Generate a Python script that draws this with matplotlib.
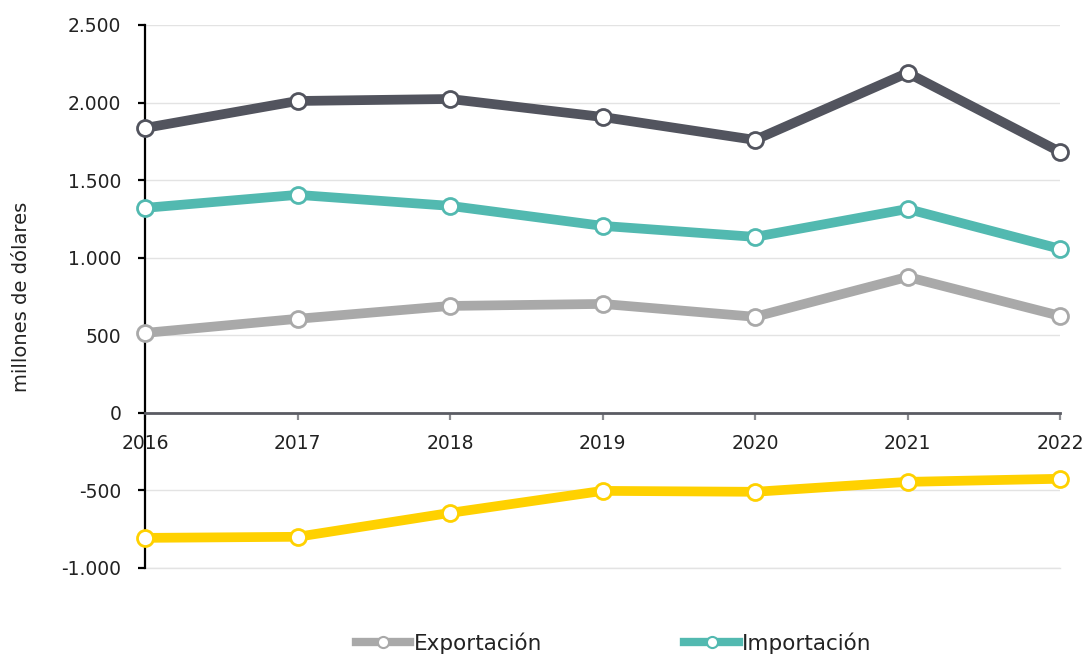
import matplotlib.pyplot as plt
from matplotlib.lines import Line2D
from matplotlib.ticker import FuncFormatter

plt.rcParams['font.family'] = ['DejaVu Sans']

years = [2016, 2017, 2018, 2019, 2020, 2021, 2022]
exportacion = [515, 606, 689, 702, 619, 876, 625]
importacion = [1321, 1405, 1334, 1205, 1134, 1314, 1057]
intercambio = [1836, 2010, 2023, 1907, 1759, 2191, 1682]
balanza = [-806, -799, -645, -503, -509, -445, -425]

series = [
    ("Exportación", exportacion, "#A9A9A9"),
    ("Importación", importacion, "#52B9B0"),
    ("Intercambio comercial", intercambio, "#52545E"),
    ("Balanza comercial", balanza, "#FFD100"),
]

fig = plt.figure(figsize=(10.88, 6.57), dpi=100)
ax = fig.add_axes([0.1333, 0.1355, 0.841, 0.8265])

for name, vals, col in series:
    ax.plot(years, vals, color=col, lw=7, marker='o', ms=11.5,
            mfc='white', mec=col, mew=2, label=name, zorder=3,
            solid_capstyle='round', clip_on=False)

ax.set_xlim(2016, 2022)
ax.set_ylim(-1000, 2500)
ax.set_yticks(range(-1000, 2501, 500))
ax.set_xticks(years)
ax.yaxis.set_major_formatter(FuncFormatter(lambda v, p: f"{int(v):,}".replace(",", ".")))

ax.grid(axis='y', color='#E3E3E3', lw=1)
ax.axhline(-1000, color='#E3E3E3', lw=1, clip_on=False, zorder=0)
ax.set_axisbelow(True)

for s in ['top', 'right']:
    ax.spines[s].set_visible(False)
ax.spines['bottom'].set_position(('data', 0))
ax.spines['bottom'].set_color('#5A5B63')
ax.spines['bottom'].set_linewidth(2)
ax.spines['left'].set_color('black')
ax.spines['left'].set_linewidth(1.6)

ax.tick_params(axis='y', length=5, width=1.6, color='black', labelsize=13.5,
               pad=12, labelcolor='#222222')
ax.tick_params(axis='x', length=5, width=1.6, color='#8A8B90', labelsize=13.5,
               pad=10, labelcolor='#222222')

ax.set_ylabel("millones de dólares", fontsize=14, color='#222222', labelpad=22)

# legend: only the two entries visible in the reference
leg_handles = [Line2D([], [], color=col, lw=6, marker='o', ms=8, mfc='white',
                      mec=col, mew=1.5, label=name)
               for name, vals, col in series[:2]]
fig.legend(handles=leg_handles, loc='center', bbox_to_anchor=(0.564, 0.021),
           ncol=2, frameon=False, fontsize=15.5, handlelength=2.55,
           columnspacing=6.6, handletextpad=0.15, borderpad=0,
           labelcolor='#222222')

fig.savefig("out.png", dpi=100)
